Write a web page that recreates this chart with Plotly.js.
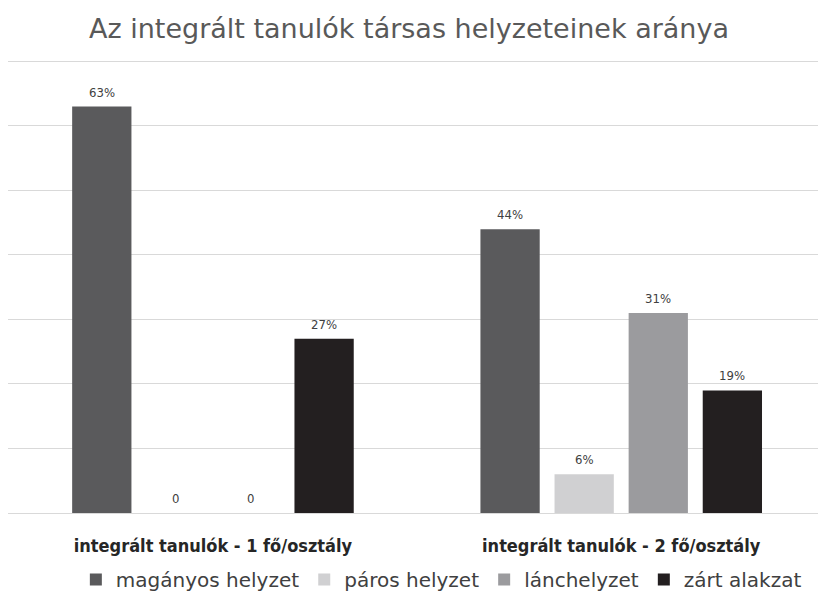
<!DOCTYPE html>
<html>
<head>
<meta charset="utf-8">
<script src="https://cdn.plot.ly/plotly-3.0.1.min.js"></script>
<style>html,body{margin:0;padding:0;background:#fff;overflow:hidden;}#chart{width:818px;height:599px;}</style>
</head>
<body>
<div id="chart"></div>
<script>
const categories = ["integrált tanulók - 1 fő/osztály", "integrált tanulók - 2 fő/osztály"];
const seriesNames = ["magányos helyzet", "páros helyzet", "lánchelyzet", "zárt alakzat"];
const maganyos = [63, 44];
const paros = [0, 6];
const lanc = [0, 31];
const zart = [27, 19];
const colors = ["#5a5a5c", "#d0d0d2", "#9b9b9e", "#231f20"];

const seriesValues = [maganyos, paros, lanc, zart];
const xIdx = categories.map((c, i) => i);
const bargap = 0.274;
const nSeries = seriesValues.length;
const slot = (1 - bargap) / nSeries;

const traces = seriesValues.map((vals, k) => ({
  type: "bar",
  name: seriesNames[k],
  x: xIdx,
  y: vals,
  marker: {color: colors[k]},
  hoverinfo: "none"
}));

const annotations = [];
seriesValues.forEach((vals, k) => {
  vals.forEach((v, i) => {
    annotations.push({
      x: xIdx[i] + (k - (nSeries - 1) / 2) * slot,
      y: v,
      xref: "x", yref: "y",
      text: v === 0 ? "0" : v + "%",
      showarrow: false,
      yanchor: "bottom",
      yshift: 5,
      font: {family: "Liberation Sans Narrow, DejaVu Sans Condensed, Arial", size: 13, color: "#404040"}
    });
  });
});

const layout = {
  width: 818, height: 599,
  paper_bgcolor: "#ffffff", plot_bgcolor: "#ffffff",
  margin: {l: 8, r: 0, t: 55, b: 80},
  title: {
    text: "Az integrált tanulók társas helyzeteinek aránya",
    font: {family: "DejaVu Sans, Lato", size: 27, color: "#595959"},
    x: 0.5, xanchor: "center", y: 0.953, yanchor: "middle", yref: "container"
  },
  barmode: "group",
  bargap: bargap,
  bargroupgap: 0.2,
  showlegend: true,
  legend: {
    orientation: "h", x: 0.535, xanchor: "center", y: -0.146, yanchor: "middle",
    font: {family: "DejaVu Sans, Lato", size: 20, color: "#404040"},
    itemwidth: 30, traceorder: "normal"
  },
  annotations: annotations,
  xaxis: {
    range: [-0.502, 1.482],
    tickvals: xIdx,
    ticktext: categories,
    tickfont: {family: "DejaVu Sans Condensed, DejaVu Sans", size: 18, color: "#262626", weight: "bold"},
    showgrid: false, zeroline: false, showline: false,
    ticks: "", ticklabelstandoff: 20,
    fixedrange: true
  },
  yaxis: {
    range: [0, 71],
    tickvals: [10, 20, 30, 40, 50, 60, 70],
    showticklabels: false,
    showgrid: true, gridcolor: "#d9d9d9", gridwidth: 1,
    zeroline: true, zerolinecolor: "#d9d9d9", zerolinewidth: 1,
    showline: false, ticks: "",
    fixedrange: true
  }
};

Plotly.newPlot("chart", traces, layout, {displayModeBar: false, staticPlot: true});
</script>
</body>
</html>
